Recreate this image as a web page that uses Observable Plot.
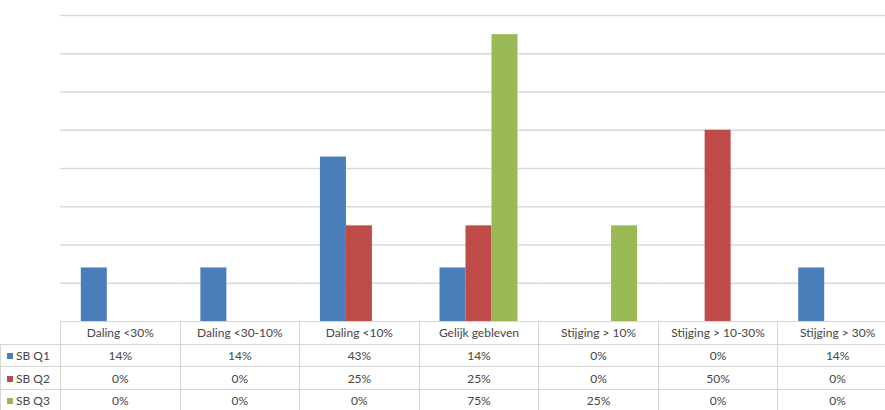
<!DOCTYPE html>
<html>
<head>
<meta charset="utf-8">
<script src="https://cdn.jsdelivr.net/npm/d3@7"></script>
<script src="https://cdn.jsdelivr.net/npm/@observablehq/plot@0.6"></script>
<style>
  html, body { margin: 0; padding: 0; background: #fff; }
  #wrap { width: 885px; height: 410px; position: relative; overflow: hidden; font-family: Lato, "Open Sans", sans-serif; }
  #wrap svg { max-width: none !important; position: absolute; left: 0; top: 0; }
  table { border-collapse: collapse; table-layout: fixed; width: 897px; position: absolute; left: 0; top: 321px; font-size: 12px; color: #454545; }
  td { border: 1px solid #d6d6d6; height: 21.7px; padding: 0; text-align: center; white-space: nowrap; overflow: hidden; }
  td.key { text-align: left; padding-left: 6px; }
  td.blank { border: none; border-right: 1px solid #d6d6d6; }
  .sw { display: inline-block; width: 6px; height: 6px; margin-right: 3px; vertical-align: 1px; }
</style>
</head>
<body>
<div id="wrap"></div>
<script>
const categories = ["Daling <30%", "Daling <30-10%", "Daling <10%", "Gelijk gebleven", "Stijging > 10%", "Stijging > 10-30%", "Stijging > 30%"];
const seriesNames = ["SB Q1", "SB Q2", "SB Q3"];
const seriesColors = ["#4a7ebb", "#be4b48", "#98b954"];
const q1 = [14, 14, 43, 14, 0, 0, 14];
const q2 = [0, 0, 25, 25, 0, 50, 0];
const q3 = [0, 0, 0, 75, 25, 0, 0];
const gridTicks = [10, 20, 30, 40, 50, 60, 70, 80];

const seriesValues = [q1, q2, q3];
const rows = [];
seriesNames.forEach((s, i) => categories.forEach((c, j) => rows.push({category: c, series: s, value: seriesValues[i][j]})));

const fullWidth = 897;
const leftCol = 60;

const chart = Plot.plot({
  width: fullWidth,
  height: 321,
  marginLeft: leftCol,
  marginRight: 0,
  marginTop: 15,
  marginBottom: 0,
  fx: {domain: categories, padding: 0, round: false, axis: null},
  x: {domain: seriesNames, paddingInner: 0, paddingOuter: 0.8, round: false, axis: null},
  y: {domain: [0, 80], axis: null},
  color: {domain: seriesNames, range: seriesColors},
  style: {background: "transparent", maxWidth: "none"},
  marks: [
    Plot.gridY(gridTicks, {stroke: "#d9d9d9", strokeOpacity: 1, strokeWidth: 1.5}),
    Plot.barY(rows, {fx: "category", x: "series", y: "value", fill: "series", inset: 0})
  ]
});
chart.style.maxWidth = "none";
const wrap = document.getElementById("wrap");
wrap.appendChild(chart);

// data table below the chart
const table = document.createElement("table");
const colgroup = document.createElement("colgroup");
const c0 = document.createElement("col"); c0.style.width = leftCol + "px"; colgroup.appendChild(c0);
categories.forEach(() => { const c = document.createElement("col"); c.style.width = ((fullWidth - leftCol) / categories.length) + "px"; colgroup.appendChild(c); });
table.appendChild(colgroup);
const head = document.createElement("tr");
const blank = document.createElement("td"); blank.className = "blank"; head.appendChild(blank);
categories.forEach(c => { const td = document.createElement("td"); td.textContent = c; head.appendChild(td); });
table.appendChild(head);
seriesNames.forEach((s, i) => {
  const tr = document.createElement("tr");
  const k = document.createElement("td"); k.className = "key";
  const sw = document.createElement("span"); sw.className = "sw"; sw.style.background = seriesColors[i];
  k.appendChild(sw); k.appendChild(document.createTextNode(s));
  tr.appendChild(k);
  seriesValues[i].forEach(v => { const td = document.createElement("td"); td.textContent = v + "%"; tr.appendChild(td); });
  table.appendChild(tr);
});
wrap.appendChild(table);
</script>
</body>
</html>
